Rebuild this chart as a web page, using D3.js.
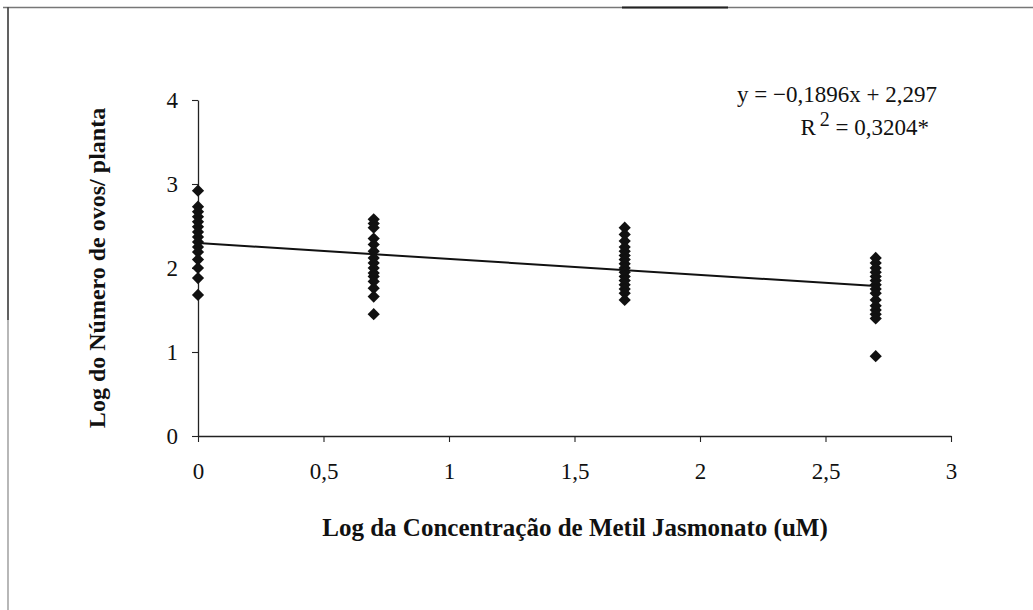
<!DOCTYPE html>
<html>
<head>
<meta charset="utf-8">
<script src="https://cdn.jsdelivr.net/npm/d3@7"></script>
<style>
  body { margin: 0; background: #fff; }
  svg { display: block; }
</style>
</head>
<body>
<svg id="chart"></svg>
<script>
// log concentration levels and the egg counts
const doses = [0, 0.7, 1.7, 2.7];
const eggs0 = [2.92, 2.73, 2.67, 2.61, 2.55, 2.49, 2.43, 2.37, 2.31, 2.25, 2.19, 2.10, 2.00, 1.88, 1.68];
const eggs07 = [2.58, 2.53, 2.48, 2.35, 2.28, 2.2, 2.12, 2.06, 2.0, 1.94, 1.9, 1.84, 1.76, 1.66, 1.45];
const eggs17 = [2.48, 2.4, 2.32, 2.25, 2.2, 2.15, 2.1, 2.05, 2.0, 1.95, 1.9, 1.85, 1.8, 1.75, 1.7, 1.62];
const eggs27 = [2.12, 2.06, 2.0, 1.95, 1.9, 1.85, 1.8, 1.75, 1.7, 1.62, 1.55, 1.5, 1.45, 1.4, 0.95];
const xTicks = [0, 0.5, 1, 1.5, 2, 2.5, 3];
const yTicks = [0, 1, 2, 3, 4];
const slope = -0.1896, intercept = 2.297;

const W = 1033, H = 610;
const margin = { top: 100, right: 82, bottom: 174, left: 198 };
const w = W - margin.left - margin.right;
const h = H - margin.top - margin.bottom;

const svg = d3.select('#chart').attr('width', W).attr('height', H);

// scanned page frame
svg.append('line').attr('x1', 3).attr('x2', W).attr('y1', 7.5).attr('y2', 7.5)
  .attr('stroke', '#777').attr('stroke-width', 1.5);
svg.append('line').attr('x1', 622).attr('x2', 728).attr('y1', 7.5).attr('y2', 7.5)
  .attr('stroke', '#222').attr('stroke-width', 2);
svg.append('line').attr('x1', 8).attr('x2', 8).attr('y1', 7).attr('y2', H)
  .attr('stroke', '#888').attr('stroke-width', 1.2);
svg.append('line').attr('x1', 8).attr('x2', 8).attr('y1', 7).attr('y2', 320)
  .attr('stroke', '#444').attr('stroke-width', 1.5);

const g = svg.append('g').attr('transform', `translate(${margin.left},${margin.top})`);

const x = d3.scaleLinear().domain([0, 3]).range([0, w]);
const y = d3.scaleLinear().domain([0, 4]).range([h, 0]);

const fmt = d => String(d).replace('.', ',');
const font = '"Liberation Serif", "Times New Roman", serif';

const xAxis = g.append('g').attr('transform', `translate(0,${h})`)
  .call(d3.axisBottom(x).tickValues(xTicks).tickFormat(fmt).tickSize(6).tickSizeOuter(0).tickPadding(21));
const yAxis = g.append('g')
  .call(d3.axisLeft(y).tickValues(yTicks).tickFormat(fmt).tickSize(6).tickSizeOuter(0).tickPadding(14));

[xAxis, yAxis].forEach(a => {
  a.select('.domain').attr('stroke', '#222').attr('stroke-width', 1.3);
  a.selectAll('.tick line').attr('stroke', '#222').attr('stroke-width', 1.1);
  a.selectAll('text').attr('font-family', font).attr('font-size', 23).attr('fill', '#111');
});

// trend line
g.append('line')
  .attr('x1', x(0)).attr('y1', y(intercept))
  .attr('x2', x(2.7)).attr('y2', y(intercept + slope * 2.7))
  .attr('stroke', '#111').attr('stroke-width', 2);

// points
const groups = [eggs0, eggs07, eggs17, eggs27];
const pts = [];
groups.forEach((vals, i) => vals.forEach(v => pts.push({ x: doses[i], y: v })));
const diamond = d3.symbol().type(d3.symbolDiamond2).size(95);
g.selectAll('path.pt').data(pts).join('path')
  .attr('class', 'pt')
  .attr('d', diamond)
  .attr('transform', d => `translate(${x(d.x)},${y(d.y)})`)
  .attr('fill', '#111');

// equation
const eq = g.append('text').attr('font-family', font).attr('font-size', 23).attr('fill', '#111')
  .attr('text-anchor', 'end');
eq.append('tspan').attr('x', 739).attr('y', 2).text('y = \u22120,1896x + 2,297');
const r2 = g.append('text').attr('font-family', font).attr('font-size', 23).attr('fill', '#111')
  .attr('text-anchor', 'end').attr('x', 731).attr('y', 35);
r2.append('tspan').text('R');
r2.append('tspan').attr('dx', 4).attr('dy', -9).attr('font-size', 20).text('2');
r2.append('tspan').attr('dy', 9).text(' = 0,3204*');

// axis titles
svg.append('text')
  .attr('x', 575).attr('y', 536)
  .attr('text-anchor', 'middle')
  .attr('font-family', font).attr('font-size', 25).attr('font-weight', 'bold').attr('fill', '#111')
  .text('Log da Concentração de Metil Jasmonato (uM)');
svg.append('text')
  .attr('transform', `translate(105,${margin.top + h / 2}) rotate(-90)`)
  .attr('text-anchor', 'middle')
  .attr('font-family', font).attr('font-size', 24).attr('font-weight', 'bold').attr('fill', '#111')
  .text('Log do Número de ovos/ planta');
</script>
</body>
</html>
